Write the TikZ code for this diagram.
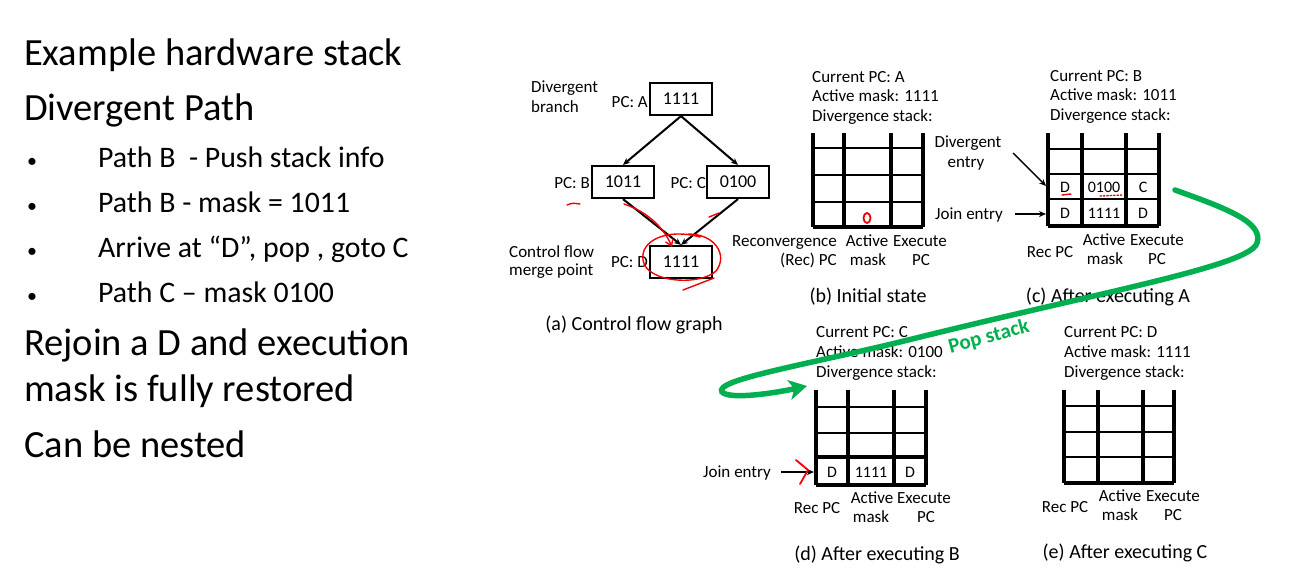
\documentclass[tikz,border=0pt]{standalone}
\usepackage{fontspec}
\setmainfont{Carlito}
\usetikzlibrary{arrows.meta}
\definecolor{annogreen}{RGB}{0,176,80}
\definecolor{annored}{RGB}{240,0,0}
\newcommand{\stk}[9]{%
  \draw[vline] (#1,#5) -- (#1,#9);
  \draw[vline] (#2,#5) -- (#2,#9);
  \draw[vline] (#3,#5) -- (#3,#9);
  \draw[vline] (#4,#5) -- (#4,#9);
  \draw[hline] (#1,#6) -- (#4,#6);
  \draw[hline] (#1,#7) -- (#4,#7);
  \draw[hline] (#1,#8) -- (#4,#8);
  \draw[hbot] (#1,#9) -- (#4,#9);}
\begin{document}
\begin{tikzpicture}[x=1pt,y=-1pt,
  head/.style={font=\fontsize{38.5}{44}\selectfont, inner sep=0, anchor=base west},
  item/.style={font=\fontsize{29.8}{34}\selectfont, inner sep=0, anchor=base west},
  dot/.style={font=\fontsize{20}{24}\selectfont, inner sep=0, anchor=base west},
  txt/.style={font=\fontsize{17}{20}\selectfont, inner sep=0, anchor=base west},
  lbl/.style={font=\fontsize{17}{20}\selectfont, inner sep=0, anchor=base},
  capt/.style={font=\fontsize{20}{24}\selectfont, inner sep=0, anchor=base},
  cfgbox/.style={draw, line width=2.2, minimum width=62, minimum height=32, inner sep=0, font=\fontsize{18}{20}\selectfont},
  cell/.style={inner sep=0, font=\fontsize{16}{18}\selectfont},
  edge/.style={line width=2, -{Stealth[length=7,width=6]}},
  ptr/.style={line width=1.4, -{Stealth[length=7,width=6]}},
  vline/.style={line width=3.2},
  hline/.style={line width=1.9},
  hbot/.style={line width=3.2},
  redmark/.style={annored, line width=1.4, line cap=round, line join=round},
  greenmark/.style={annogreen, line width=5.5, line cap=round}
]
\fill[white] (0,0) rectangle (1297,581);
\useasboundingbox (0,0) rectangle (1297,581);

% ---------- left text ----------
\node[head] (h1) at (24,65) {Example hardware stack};
\node[head] (h2) at (24,120) {Divergent Path};
\node[dot] (b1) at (27,167) {•};
\node[item] (t1) at (98,167) {Path B\ \ - Push stack info};
\node[dot] (b2) at (27,212) {•};
\node[item] (t2) at (98,212) {Path B - mask = 1011};
\node[dot] (b3) at (27,257) {•};
\node[item] (t3) at (98,257) {Arrive at “D”, pop , goto C};
\node[dot] (b4) at (27,302) {•};
\node[item] (t4) at (98,302) {Path C – mask 0100};
\node[head] (h3) at (24,355) {Rejoin a D and execution};
\node[head] (h4) at (24,401) {mask is fully restored};
\node[head] (h5) at (24,457) {Can be nested};

% ---------- (a) control flow graph ----------
\node[cfgbox] (A) at (681,99) {1111};
\node[cfgbox] (B) at (623,182) {1011};
\node[cfgbox] (C) at (738,182) {0100};
\node[cfgbox] (D) at (681,262) {1111};
\node[txt, anchor=base east] (pa) at (648,107) {PC: A};
\node[txt, anchor=base east] (pb) at (590,188) {PC: B};
\node[txt, anchor=base east] (pc) at (706,188) {PC: C};
\node[txt, anchor=base east] (pd) at (648,267) {PC: D};
\node[txt] (db1) at (531,92) {Divergent};
\node[txt] (db2) at (531,112) {branch};
\node[txt] (cf1) at (509,257) {Control flow};
\node[txt] (cf2) at (509,275) {merge point};
\draw[edge] (A.south) -- (B.north);
\draw[edge] (A.south) -- (C.north);
\draw[edge] (B.south) -- (D.north);
\draw[edge] (C.south) -- (D.north);
\node[capt] (ca) at (634,330) {(a) Control flow graph};

% ---------- (b) initial state ----------
\node[txt] (bs1) at (812,82) {Current PC: A};
\node[txt] (bs2) at (812,101) {Active mask: 1111};
\node[txt] (bs3) at (812,121) {Divergence stack:};
\stk{813}{844}{891}{923}{133}{148}{175}{202}{227}
\node[lbl, anchor=base east] (bl1) at (837,246) {Reconvergence};
\node[lbl, anchor=base east] (bl2) at (837,265) {(Rec) PC};
\node[lbl] (bl3) at (867,246) {Active};
\node[lbl] (bl4) at (868,265) {mask};
\node[lbl] (bl5) at (920,246) {Execute};
\node[lbl] (bl6) at (921,265) {PC};
\node[capt] (cb) at (868,302) {(b) Initial state};

% ---------- (c) after executing A ----------
\node[txt] (cs1) at (1050,81) {Current PC: B};
\node[txt] (cs2) at (1050,100) {Active mask: 1011};
\node[txt] (cs3) at (1050,120) {Divergence stack:};
\stk{1048}{1082}{1126}{1159}{133}{149}{174}{199}{226}
\draw[line width=2.8] (1048,174) -- (1159,174);
\draw[line width=2.8] (1048,199) -- (1159,199);
\node[cell] (c31) at (1065,187) {D};
\node[cell] (c32) at (1104,187) {0100};
\node[cell] (c33) at (1143,187) {C};
\node[cell] (c41) at (1065,213) {D};
\node[cell] (c42) at (1104,213) {1111};
\node[cell] (c43) at (1143,213) {D};
\node[lbl] (de1) at (968,147) {Divergent};
\node[lbl] (de2) at (966,167) {entry};
\node[txt] (je) at (935,219) {Join entry};
\coordinate (deS) at (1013,153);
\coordinate (deE) at (1046,186);
\coordinate (jeS) at (1015,214);
\coordinate (jeE) at (1046,214);
\draw[ptr] (deS) -- (deE);
\draw[ptr] (jeS) -- (jeE);
\node[lbl] (cl1) at (1050,257) {Rec PC};
\node[lbl] (cl2) at (1104,245) {Active};
\node[lbl] (cl3) at (1105,264) {mask};
\node[lbl] (cl4) at (1157,245) {Execute};
\node[lbl] (cl5) at (1157,264) {PC};
\node[capt] (cc) at (1108,302) {(c) After executing A};

% ---------- (d) after executing B ----------
\node[txt] (ds1) at (816,337) {Current PC: C};
\node[txt] (ds2) at (816,357) {Active mask: 0100};
\node[txt] (ds3) at (816,377) {Divergence stack:};
\stk{816}{848}{894}{926}{390}{407}{433}{457}{485}
\draw[line width=3.2] (816,457) -- (926,457);
\node[cell] (d41) at (832,472) {D};
\node[cell] (d42) at (871,472) {1111};
\node[cell] (d43) at (910,472) {D};
\node[txt] (dje) at (703,477) {Join entry};
\coordinate (djS) at (781,472);
\coordinate (djE) at (814,472);
\draw[ptr] (djS) -- (djE);
\node[lbl] (dl1) at (817,513) {Rec PC};
\node[lbl] (dl2) at (872,503) {Active};
\node[lbl] (dl3) at (871,522) {mask};
\node[lbl] (dl4) at (924,503) {Execute};
\node[lbl] (dl5) at (926,522) {PC};
\node[capt] (cd) at (877,560) {(d) After executing B};

% ---------- (e) after executing C ----------
\node[txt] (es1) at (1064,337) {Current PC: D};
\node[txt] (es2) at (1064,357) {Active mask: 1111};
\node[txt] (es3) at (1064,377) {Divergence stack:};
\stk{1064}{1098}{1143}{1174}{390}{406}{432}{457}{483}
\node[lbl] (el1) at (1065,512) {Rec PC};
\node[lbl] (el2) at (1120,501) {Active};
\node[lbl] (el3) at (1120,520) {mask};
\node[lbl] (el4) at (1173,501) {Execute};
\node[lbl] (el5) at (1173,520) {PC};
\node[capt] (ce) at (1125,558) {(e) After executing C};

% ---------- red hand annotations ----------
\draw[redmark] (567,205) .. controls (572,203) .. (580,204);
\draw[redmark, -{Straight Barb[length=6,width=8]}] (624,204) .. controls (648,212) and (664,228) .. (672,247);
\draw[redmark] (700,237) .. controls (668,228) and (640,240) .. (643,260)
  .. controls (646,283) and (700,286) .. (716,271)
  .. controls (728,256) and (716,234) .. (688,234);
\draw[redmark] (683,290) -- (714,278);
\draw[redmark] (709,217) -- (719,213);
\draw[redmark, line width=1.8] (867,218) ellipse [x radius=3.5, y radius=5];
\draw[redmark] (1062,195) -- (1071,194);
\draw[redmark, dotted] (1100,196) -- (1122,195);
\draw[redmark, line width=1.8] (796,460) -- (808,470) -- (800,484);

% ---------- green pop-stack arrow ----------
\coordinate (gS) at (1175,190);
\coordinate (gE) at (807,386);
\draw[greenmark, -{Stealth[length=18,width=20,inset=5]}] (gS)
  .. controls (1225,208) and (1264,222) .. (1257,243)
  .. controls (1250,266) and (1100,292) .. (900,342)
  .. controls (800,366) and (714,380) .. (722,392)
  .. controls (730,400) and (775,393) .. (gE);
\node[annogreen, font=\bfseries\fontsize{21}{24}\selectfont, inner sep=0, rotate=15] (pop) at (989,337) {Pop stack};
\end{tikzpicture}
\end{document}
